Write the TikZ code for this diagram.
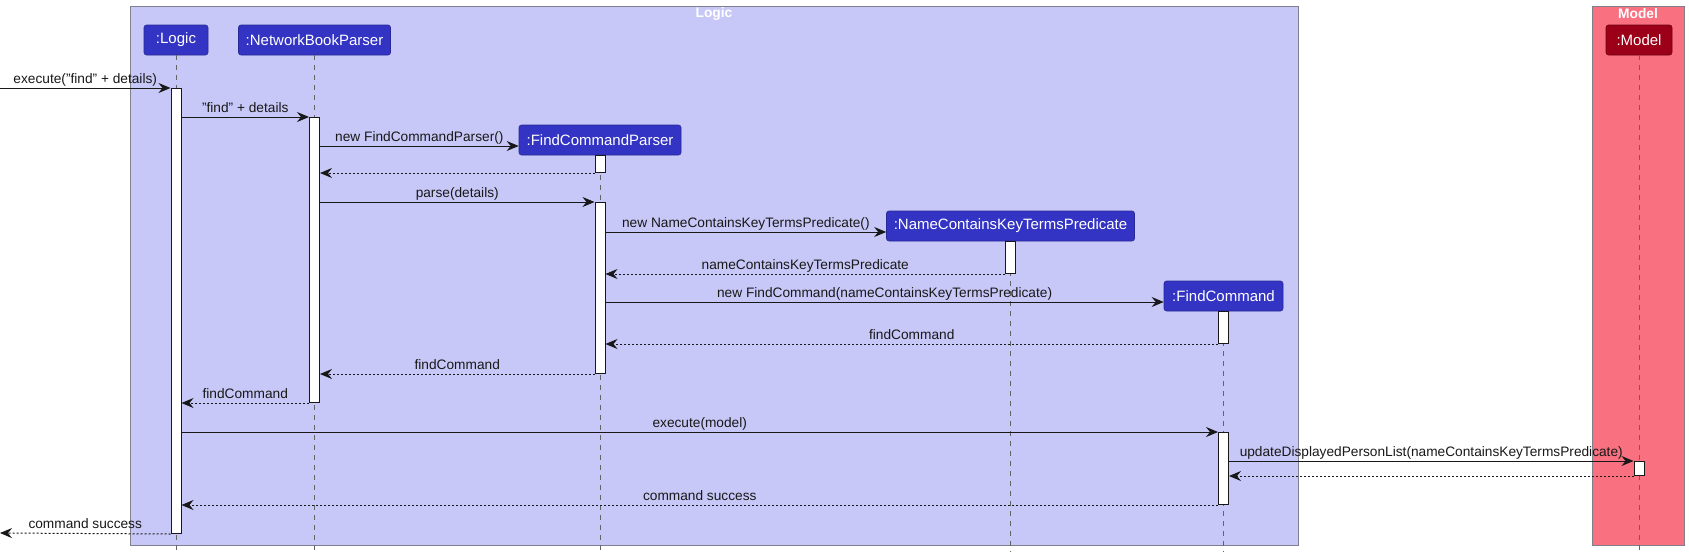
\documentclass[tikz,border=0pt]{standalone}
\usepackage{fontspec}
\setmainfont{Liberation Sans}
\usetikzlibrary{arrows.meta}
\definecolor{logicbg}{RGB}{200,200,248}
\definecolor{modelbg}{RGB}{249,112,128}
\definecolor{partblue}{RGB}{51,51,196}
\definecolor{partblueline}{RGB}{40,40,150}
\definecolor{modelpart}{RGB}{155,0,24}
\definecolor{modelpartline}{RGB}{110,0,16}
\definecolor{frameline}{RGB}{128,128,140}
\definecolor{lifecol}{RGB}{100,100,100}
\definecolor{ink}{RGB}{24,24,24}
\begin{document}
\begin{tikzpicture}[x=1pt,y=-1pt,
  frame/.style={draw=frameline,line width=1pt},
  frametitle/.style={text=white,font=\fontsize{13.8}{16}\selectfont\bfseries,inner sep=0pt},
  part/.style={draw=partblueline,fill=partblue,text=white,rounded corners=2.5pt,
     minimum height=30pt,inner sep=0pt,font=\fontsize{15}{18}\selectfont,line width=0.6pt},
  modelp/.style={part,draw=modelpartline,fill=modelpart},
  life/.style={draw=lifecol,line width=0.8pt,dash pattern=on 5pt off 5pt},
  act/.style={draw=ink,fill=white,line width=1pt,minimum width=10pt,inner sep=0pt,anchor=north},
  msg/.style={draw=ink,line width=1pt,-{Stealth[length=12pt,width=10pt,inset=4pt]}},
  ret/.style={msg,dash pattern=on 2pt off 2pt},
  lbl/.style={anchor=base,yshift=5pt,inner sep=0pt,text=ink,font=\fontsize{13.7}{16}\selectfont}
]
\useasboundingbox (0,0) rectangle (1689,557);
% frames
\draw[frame,fill=logicbg] (130,6) rectangle (1298,545);
\node[frametitle] (logictitle) at (714,14) {Logic};
\draw[frame,fill=modelbg] (1592,6) rectangle (1684,545);
\node[frametitle] (modeltitle) at (1638,14) {Model};

% participants
\node[part,minimum width=64pt] (pLogic) at (176,40) {:Logic};
\node[part,minimum width=152pt] (pNBP) at (314.5,40) {:NetworkBookParser};
\node[part,minimum width=162pt] (pFCP) at (600,140) {:FindCommandParser};
\node[part,minimum width=248pt] (pNCK) at (1010.5,226) {:NameContainsKeyTermsPredicate};
\node[part,minimum width=119pt] (pFC) at (1223.5,296) {:FindCommand};
\node[modelp,minimum width=66pt] (pModel) at (1639,40) {:Model};

% lifeline ends
\coordinate (eLogic) at (176,552);
\coordinate (eNBP) at (314.5,552);
\coordinate (eFCP) at (600,552);
\coordinate (eNCK) at (1010.5,552);
\coordinate (eFC) at (1223.5,552);
\coordinate (eModel) at (1639,552);
\draw[life] (pLogic.south) -- (eLogic);
\draw[life] (pNBP.south) -- (eNBP);
\draw[life] (pFCP.south) -- (eFCP);
\draw[life] (pNCK.south) -- (eNCK);
\draw[life] (pFC.south) -- (eFC);
\draw[life] (pModel.south) -- (eModel);

% activations
\node[act,minimum height=445pt] (aLogic) at (176,88) {};
\node[act,minimum height=285pt] (aNBP) at (314.5,117) {};
\node[act,minimum height=17pt] (aFCP1) at (600,155) {};
\node[act,minimum height=171pt] (aFCP2) at (600,202) {};
\node[act,minimum height=32pt] (aNCK) at (1010.5,241) {};
\node[act,minimum height=32pt] (aFC1) at (1223.5,311) {};
\node[act,minimum height=72pt] (aFC2) at (1223.5,432) {};
\node[act,minimum height=14pt] (aModel) at (1639,461) {};

% message end points
\coordinate (inEnd) at (0,88);
\coordinate (outEnd) at (0,533);
\coordinate (m3) at ([yshift=-6pt]pFCP.west);
\coordinate (m6) at ([yshift=-6pt]pNCK.west);
\coordinate (m8) at ([yshift=-6pt]pFC.west);

% messages
\draw[msg] (inEnd) -- node[lbl] {execute("find" + details)} (aLogic.north west);
\draw[msg] (aLogic.east |- aNBP.north) -- node[lbl] {"find" + details} (aNBP.north west);
\draw[msg] (aNBP.east |- m3) -- node[lbl] {new FindCommandParser()} (m3);
\draw[ret] (aFCP1.south west) -- (aNBP.east |- aFCP1.south);
\draw[msg] (aNBP.east |- aFCP2.north) -- node[lbl] {parse(details)} (aFCP2.north west);
\draw[msg] (aFCP2.east |- m6) -- node[lbl] {new NameContainsKeyTermsPredicate()} (m6);
\draw[ret] (aNCK.south west) -- node[lbl] {nameContainsKeyTermsPredicate} (aFCP2.east |- aNCK.south);
\draw[msg] (aFCP2.east |- m8) -- node[lbl] {new FindCommand(nameContainsKeyTermsPredicate)} (m8);
\draw[ret] (aFC1.south west) -- node[lbl] {findCommand} (aFCP2.east |- aFC1.south);
\draw[ret] (aFCP2.south west) -- node[lbl] {findCommand} (aNBP.east |- aFCP2.south);
\draw[ret] (aNBP.south west) -- node[lbl] {findCommand} (aLogic.east |- aNBP.south);
\draw[msg] (aLogic.east |- aFC2.north) -- node[lbl] {execute(model)} (aFC2.north west);
\draw[msg] (aFC2.east |- aModel.north) -- node[lbl] {updateDisplayedPersonList(nameContainsKeyTermsPredicate)} (aModel.north west);
\draw[ret] (aModel.south west) -- (aFC2.east |- aModel.south);
\draw[ret] (aFC2.south west) -- node[lbl] {command success} (aLogic.east |- aFC2.south);
\draw[ret] (aLogic.south west) -- node[lbl] {command success} (outEnd);
\end{tikzpicture}
\end{document}
